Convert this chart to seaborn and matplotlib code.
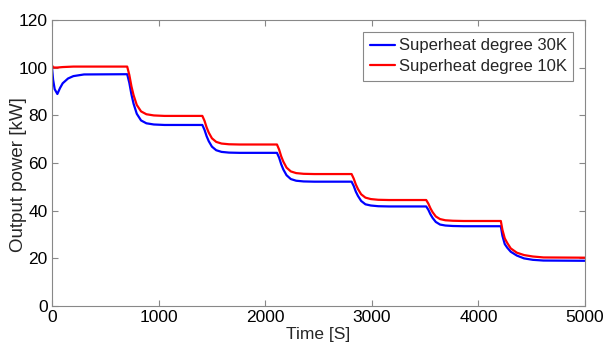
import matplotlib
matplotlib.use("Agg")
import matplotlib.pyplot as plt
import seaborn as sns
import pandas as pd

time_s = [0, 10, 25, 50, 75, 100, 150, 200, 300,
          705, 725, 745, 765, 795, 835, 885, 955, 1055,
          1410, 1430, 1450, 1470, 1500, 1540, 1590, 1660, 1760,
          2110, 2130, 2150, 2170, 2200, 2240, 2290, 2360, 2460,
          2810, 2830, 2850, 2870, 2900, 2940, 2990, 3060, 3160,
          3510, 3530, 3550, 3570, 3600, 3640, 3690, 3760, 3860,
          4210, 4225, 4247, 4270, 4303, 4360, 4428, 4510, 4610,
          5000]

power_30k = [100, 95, 91, 89, 91.5, 93.5, 95.5, 96.5, 97.2,
             97.3, 93.7, 88.8, 84.9, 80.7, 77.9, 76.7, 76.2, 76.0,
             76.0, 74.0, 71.3, 69.2, 66.9, 65.4, 64.7, 64.4, 64.3,
             64.3, 62.3, 59.5, 57.3, 54.9, 53.3, 52.6, 52.3, 52.2,
             52.2, 50.4, 48.0, 46.2, 44.1, 42.7, 42.2, 41.9, 41.8,
             41.8, 40.4, 38.5, 37.0, 35.3, 34.2, 33.8, 33.6, 33.5,
             33.5, 29.5, 26.0, 24.5, 22.8, 21.2, 20.0, 19.4, 19.1,
             19.0]

power_10k = [101, 100.2, 100.1, 100.1, 100.2, 100.3, 100.4, 100.5, 100.5,
             100.5, 97.0, 92.2, 88.5, 84.4, 81.7, 80.5, 80.0, 79.8,
             79.8, 77.8, 75.0, 72.8, 70.4, 68.9, 68.2, 67.9, 67.8,
             67.8, 65.7, 62.8, 60.6, 58.1, 56.5, 55.8, 55.5, 55.4,
             55.4, 53.5, 51.0, 49.1, 46.9, 45.5, 44.9, 44.6, 44.5,
             44.5, 43.0, 41.0, 39.4, 37.6, 36.5, 36.0, 35.8, 35.7,
             35.7, 32.0, 28.4, 26.5, 24.2, 22.4, 21.4, 20.8, 20.4,
             20.3]

labels = ["Superheat degree 30K", "Superheat degree 10K"]
colors = ["#0000ff", "#ff0000"]
x_ticks = [0, 1000, 2000, 3000, 4000, 5000]
y_ticks = [0, 20, 40, 60, 80, 100, 120]

df = pd.concat([
    pd.DataFrame({"Time": time_s, "Power": power_30k, "Series": labels[0]}),
    pd.DataFrame({"Time": time_s, "Power": power_10k, "Series": labels[1]}),
], ignore_index=True)

sns.set_style("white")
plt.rcParams["font.family"] = ["Liberation Sans", "DejaVu Sans"]

fig = plt.figure(figsize=(6.05, 3.47), dpi=100)
ax = fig.add_axes([0.086, 0.118, 0.881, 0.824])

sns.lineplot(data=df, x="Time", y="Power", hue="Series", palette=colors,
             linewidth=1.6, ax=ax, estimator=None, sort=False)

ax.set_xlim(0, 5000)
ax.set_ylim(0, 120)
ax.set_xticks(x_ticks)
ax.set_yticks(y_ticks)
ax.tick_params(direction="in", length=4, width=0.8, color="#888888",
               labelsize=12.5, labelcolor="black", top=True, right=True,
               bottom=True, left=True, pad=3)
for s in ax.spines.values():
    s.set_color("#888888")
    s.set_linewidth(0.8)
ax.set_xlabel("Time [S]", fontsize=12.5, labelpad=1)
ax.set_ylabel("Output power [kW]", fontsize=13.5)
ax.yaxis.set_label_coords(-0.047, 0.46)

leg = ax.legend(loc="upper right", fontsize=12, frameon=True, fancybox=False,
                edgecolor="#888888", framealpha=1, handlelength=1.5,
                handletextpad=0.25, borderpad=0.4, labelspacing=0.35,
                borderaxespad=0.7)
leg.get_frame().set_linewidth(0.8)

fig.savefig("out.png", dpi=100)
